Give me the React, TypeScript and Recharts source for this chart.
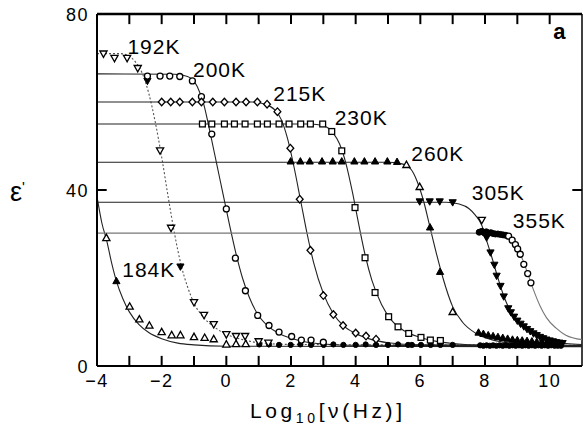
import { ComposedChart, Line, Scatter, XAxis, YAxis, ReferenceDot, ReferenceLine } from "recharts";

type Pt = [number, number];

// fitted curves (log10 freq, eps')
const fit184: Pt[] = [[-4, 38.5], [-3.85, 32.5], [-3.7, 28.5], [-3.55, 23.5], [-3.4, 19.3], [-3.2, 15.3], [-3.0, 12.3], [-2.7, 9.4], [-2.4, 7.6], [-2.0, 6.2], [-1.5, 5.2], [-1.0, 4.8], [0, 4.5], [11, 4.4]];
const fit192: Pt[] = [[-4, 71], [-3.3, 71], [-3.0, 70.4], [-2.8, 69], [-2.6, 66.5], [-2.4, 62], [-2.2, 55.5], [-2.0, 47.5], [-1.8, 38.5], [-1.6, 30], [-1.4, 23], [-1.2, 18], [-1.0, 14.3], [-0.7, 11], [-0.4, 9], [0, 7.2], [0.5, 6], [1, 5.3], [2, 4.9], [11, 4.7]];
const fit200: Pt[] = [[-4, 66.4], [-1.6, 66.3], [-1.2, 65.8], [-0.9, 63.5], [-0.7, 59.5], [-0.5, 53], [-0.3, 46], [-0.1, 39], [0.1, 32], [0.3, 25.5], [0.5, 20], [0.7, 15.8], [0.95, 12], [1.3, 9], [1.6, 7.5], [2.0, 6.3], [2.5, 5.4], [3.0, 5.0], [4.0, 4.7], [11, 4.5]];
const fit215: Pt[] = [[-4, 60], [0.8, 60], [1.2, 59.5], [1.5, 58.2], [1.7, 56], [1.9, 51.5], [2.1, 45], [2.3, 37.5], [2.5, 30], [2.7, 23.5], [3.0, 16.5], [3.3, 12], [3.6, 9.3], [4.0, 7.4], [4.5, 6.0], [5.0, 5.3], [6.0, 4.8], [11, 4.6]];
const fit230: Pt[] = [[-4, 55], [2.6, 55], [3.0, 54.6], [3.3, 53], [3.5, 50.5], [3.7, 46], [3.9, 39.5], [4.1, 32], [4.3, 25], [4.5, 19.5], [4.8, 14], [5.1, 10.5], [5.5, 8], [6.0, 6.5], [6.5, 5.6], [7.0, 5.1], [8.0, 4.7], [11, 4.6]];
const fit260: Pt[] = [[-4, 46.3], [5.0, 46.3], [5.4, 46], [5.7, 44.8], [5.9, 42], [6.1, 37.5], [6.3, 31.5], [6.5, 25.5], [6.7, 20], [7.0, 13.5], [7.3, 10], [7.7, 7.5], [8.2, 6.0], [8.8, 5.2], [9.5, 4.9], [11, 4.7]];
const fit305: Pt[] = [[-4, 37.2], [6.8, 37.2], [7.2, 36.8], [7.5, 35.8], [7.7, 34.3], [7.9, 32], [8.05, 28.5], [8.2, 25], [8.4, 20], [8.6, 15.5], [8.8, 12.3], [9.0, 10.2], [9.3, 8.2], [9.6, 6.9], [10.0, 5.8], [10.5, 5.1], [11, 4.9]];
const fit355: Pt[] = [[-4, 30.2], [7.6, 30.2], [8.0, 30.1], [8.4, 29.8], [8.7, 29], [8.9, 27.7], [9.1, 25.3], [9.3, 21.5], [9.5, 17.3], [9.7, 13.7], [9.9, 11], [10.2, 8.6], [10.5, 7.0], [11, 6.0]];

// measured points
const pts184: Pt[] = [[-3.71, 29.1], [-2.99, 13.5], [-2.69, 10.6], [-2.38, 9.2], [-2.0, 7.7], [-1.69, 7.0], [-1.42, 7.0], [-1.0, 6.6], [-0.67, 6.4], [-0.39, 6.1], [0.0, 4.9], [0.3, 5.0], [0.6, 5.0]];
const pts184f: Pt[] = [[-3.4, 19.3]];
const pts192: Pt[] = [[-3.8, 71], [-3.46, 70], [-3.07, 70], [-2.74, 67.7], [-2.05, 49], [-1.71, 31.4], [-1.0, 14.5], [-0.69, 11.6], [-0.39, 9.5], [0.0, 7.2], [0.3, 6.8], [0.58, 6.8], [1.0, 5.6], [1.3, 5.3]];
const pts192f: Pt[] = [[-2.44, 64.8], [-1.42, 22.6]];
const pts200: Pt[] = [[-2.44, 65.9], [-2.05, 65.9], [-1.75, 65.9], [-1.44, 65.8], [-1.05, 64.8], [-0.77, 61.2], [-0.45, 52.7], [0.0, 35.7], [0.28, 24.5], [0.59, 17.1], [0.97, 11.5], [1.32, 9.2], [1.63, 7.7], [2.02, 6.7], [2.32, 5.9], [2.62, 5.9], [3.0, 5.4]];
const pts215: Pt[] = [[-2.0, 60], [-1.72, 60], [-1.44, 60], [-1.05, 60], [-0.77, 60], [-0.42, 60], [-0.06, 60], [0.3, 60], [0.61, 60], [0.96, 60], [1.26, 59.5], [1.58, 57.8], [1.98, 49.5], [2.27, 37.9], [2.6, 26.3], [3.0, 16], [3.31, 11.7], [3.61, 9.2], [4.0, 7.5], [4.32, 6.8], [4.63, 6.1]];
const pts230: Pt[] = [[-0.74, 55], [-0.45, 55], [-0.06, 55], [0.25, 55], [0.58, 55], [0.96, 55], [1.27, 55], [1.63, 55], [1.94, 55], [2.3, 55], [2.6, 55], [2.98, 55], [3.26, 53.3], [3.57, 48.9], [3.98, 36], [4.29, 24.6], [4.6, 16.7], [5.02, 11.2], [5.31, 8.9], [5.64, 7.4], [6.02, 6.5], [6.31, 5.9], [6.62, 5.8]];
const pts260f: Pt[] = [[1.99, 46.5], [2.29, 46.5], [2.58, 46.5], [2.96, 46.5], [3.29, 46.5], [3.57, 46.5], [3.96, 46.5], [4.27, 46.5], [4.6, 46.5], [4.98, 46.5], [5.28, 46.4], [6.3, 31.5], [6.61, 21.4], [7.8, 7.6], [7.95, 7.3], [8.1, 7.0], [8.25, 6.8], [8.4, 6.6], [8.55, 6.4], [8.7, 6.2], [8.85, 6.0], [9.0, 5.9], [9.15, 5.8], [9.3, 5.7], [9.45, 5.6], [9.6, 5.5], [9.75, 5.4], [9.9, 5.3], [10.05, 5.2], [10.2, 5.2]];
const pts260: Pt[] = [[5.57, 45.7], [5.98, 40.7], [7.0, 12.3]];
const pts305f: Pt[] = [[5.98, 37.4], [6.29, 37.4], [6.6, 37.4], [7.0, 37.2], [8.05, 29.2], [8.17, 25.8], [8.29, 23], [8.36, 20.5], [8.48, 18.2], [8.58, 15.8], [8.72, 13.1], [8.8, 12.2], [8.9, 11.2], [9.0, 10.3], [9.1, 9.6], [9.2, 9.0], [9.3, 8.4], [9.4, 7.9], [9.5, 7.4], [9.6, 7.0], [9.7, 6.6], [9.8, 6.3], [9.9, 6.0], [10.0, 5.8], [10.1, 5.6], [10.2, 5.4], [10.3, 5.3], [10.4, 5.2]];
const pts305: Pt[] = [[7.9, 33.2]];
const pts355: Pt[] = [[8.73, 29.5], [8.84, 28.6], [8.94, 27.6], [9.01, 26.6], [9.09, 25.4], [9.2, 23.1], [9.32, 21], [9.42, 18.9]];
const pts355f: Pt[] = [[7.82, 30.4], [7.9, 30.6], [7.97, 30.3], [8.04, 30.5], [8.1, 30.2], [8.18, 30.3], [8.25, 30.1], [8.32, 30.0], [8.4, 30.0], [8.48, 29.9], [8.56, 29.8], [8.64, 29.7]];
// high-frequency limit points
const ptsBase: Pt[] = [[1.02, 4.9], [1.32, 4.9], [1.63, 4.8], [1.99, 4.8], [2.29, 4.9], [2.62, 4.8], [3.01, 4.8], [3.31, 4.9], [3.62, 4.8], [4.0, 4.8], [4.31, 4.9], [4.63, 4.8], [5.0, 4.8], [5.31, 4.9], [5.62, 4.8], [5.74, 4.8], [6.02, 4.8], [6.32, 4.8], [6.62, 4.8], [7.0, 4.8], [7.85, 4.7], [7.95, 4.6], [8.05, 4.7], [8.15, 4.6], [8.25, 4.7], [8.35, 4.6], [8.45, 4.7], [8.55, 4.6], [8.65, 4.7], [8.75, 4.6], [8.85, 4.7], [8.95, 4.6], [9.05, 4.7], [9.15, 4.6], [9.25, 4.7], [9.35, 4.6], [9.45, 4.7], [9.55, 4.6], [9.65, 4.7], [9.75, 4.6], [9.85, 4.7], [9.95, 4.6], [10.05, 4.7], [10.15, 4.6], [10.25, 4.6], [10.35, 4.6]];

const X_TICKS = [-4, -3, -2, -1, 0, 1, 2, 3, 4, 5, 6, 7, 8, 9, 10];
const INNER_TICKS = [-3, -2, -1, 0, 1, 2, 3, 4, 5, 6, 7, 8, 9, 10];
const Y_TICKS = [0, 40, 80];
const X_MIN = -4;
const X_MAX = 11;
const Y_MAX = 80;
// inward tick length in axis units (about 10px)
const TICK_DY = 2.3;
const TICK_DX = 0.3;

const TEMP_LABELS = [
  { text: "184K", x: -2.4, y: 21.9 },
  { text: "192K", x: -2.24, y: 72.7 },
  { text: "200K", x: -0.21, y: 67.4 },
  { text: "215K", x: 2.27, y: 62 },
  { text: "230K", x: 4.17, y: 56.4 },
  { text: "260K", x: 6.54, y: 48.2 },
  { text: "305K", x: 8.41, y: 39.4 },
  { text: "355K", x: 9.68, y: 33 },
];

const toXY = (pts: Pt[]) => pts.map(([x, y]) => ({ x, y }));

type Kind = "triUp" | "triUpFill" | "triDown" | "triDownFill" | "circle" | "circleFill" | "diamond" | "square" | "dot";

function marker(kind: Kind) {
  return (props: any) => {
    const { cx, cy } = props;
    if (cx == null || cy == null) return <g />;
    const open = { fill: "#fff", stroke: "#000", strokeWidth: 1.3 };
    const solid = { fill: "#000", stroke: "#000", strokeWidth: 1 };
    switch (kind) {
      case "triUp":
      case "triUpFill":
        return (
          <polygon
            points={`${cx},${cy - 3.8} ${cx - 3.6},${cy + 2.6} ${cx + 3.6},${cy + 2.6}`}
            {...(kind === "triUp" ? open : solid)}
          />
        );
      case "triDown":
      case "triDownFill":
        return (
          <polygon
            points={`${cx},${cy + 3.8} ${cx - 3.6},${cy - 2.6} ${cx + 3.6},${cy - 2.6}`}
            {...(kind === "triDown" ? open : solid)}
          />
        );
      case "circle":
        return <circle cx={cx} cy={cy} r={3} {...open} />;
      case "circleFill":
        return <circle cx={cx} cy={cy} r={3} {...solid} />;
      case "dot":
        return <circle cx={cx} cy={cy} r={2.6} {...solid} />;
      case "diamond":
        return (
          <polygon
            points={`${cx},${cy - 3.8} ${cx + 3.4},${cy} ${cx},${cy + 3.8} ${cx - 3.4},${cy}`}
            {...open}
          />
        );
      case "square":
        return <rect x={cx - 2.9} y={cy - 2.9} width={5.8} height={5.8} {...open} />;
    }
    return <g />;
  };
}

const fmt = (v: number) => (v < 0 ? `\u2212${-v}` : `${v}`);

const bottomTick = (props: any) => {
  const { x, payload } = props;
  const v = payload.value;
  if (v % 2 !== 0) return <g />;
  return (
    <text x={x} y={387} textAnchor="middle" fontSize={18} letterSpacing={1.5} fill="#000">
      {fmt(v)}
    </text>
  );
};

const leftTick = (props: any) => {
  const { y, payload } = props;
  return (
    <text x={89} y={y + 7} textAnchor="end" fontSize={18} letterSpacing={1.5} fill="#000">
      {payload.value}
    </text>
  );
};

const fits: { data: Pt[]; stroke: string; dash?: string }[] = [
  { data: fit184, stroke: "#222" },
  { data: fit192, stroke: "#555", dash: "2 2" },
  { data: fit200, stroke: "#222" },
  { data: fit215, stroke: "#222" },
  { data: fit230, stroke: "#222" },
  { data: fit260, stroke: "#222" },
  { data: fit305, stroke: "#222" },
  { data: fit355, stroke: "#777" },
];

const points: { data: Pt[]; kind: Kind }[] = [
  { data: ptsBase, kind: "dot" },
  { data: pts184, kind: "triUp" },
  { data: pts184f, kind: "triUpFill" },
  { data: pts192, kind: "triDown" },
  { data: pts192f, kind: "triDownFill" },
  { data: pts200, kind: "circle" },
  { data: pts215, kind: "diamond" },
  { data: pts230, kind: "square" },
  { data: pts260f, kind: "triUpFill" },
  { data: pts260, kind: "triUp" },
  { data: pts305f, kind: "triDownFill" },
  { data: pts305, kind: "triDown" },
  { data: pts355f, kind: "circleFill" },
  { data: pts355, kind: "circle" },
];

export default function App() {
  return (
    <div
      style={{
        position: "absolute",
        left: 0,
        top: 0,
        background: "#fff",
        fontFamily: "'Liberation Sans', Arial, sans-serif",
      }}
    >
      <ComposedChart width={583} height={432} margin={{ top: 14, right: 1, bottom: 26, left: 57 }}>
        <XAxis
          type="number"
          dataKey="x"
          domain={[X_MIN, X_MAX]}
          ticks={X_TICKS}
          interval={0}
          height={40}
          tickLine={false}
          tick={bottomTick}
          axisLine={{ stroke: "#000", strokeWidth: 2 }}
          label={{
            content: () => (
              <text x={250} y={418} fontSize={21} letterSpacing={3.6} fill="#000">
                Log
                <tspan fontSize={14} dy={5}>
                  10
                </tspan>
                <tspan dy={-5}>[ν(Hz)]</tspan>
              </text>
            ),
          }}
        />
        <YAxis
          type="number"
          dataKey="y"
          domain={[0, Y_MAX]}
          ticks={Y_TICKS}
          interval={0}
          width={40}
          tickLine={false}
          tick={leftTick}
          axisLine={{ stroke: "#000", strokeWidth: 2 }}
          label={{
            content: () => (
              <text x={10} y={201} fontSize={27} fill="#000">
                ε
                <tspan fontSize={15} dy={-9}>
                  '
                </tspan>
              </text>
            ),
          }}
        />
        {/* closed frame, inward ticks */}
        <ReferenceLine y={Y_MAX} stroke="#000" strokeWidth={2.5} ifOverflow="visible" />
        <ReferenceLine x={X_MAX} stroke="#000" strokeWidth={1.5} ifOverflow="visible" />
        {INNER_TICKS.map((v) => (
          <ReferenceLine
            key={`tt${v}`}
            segment={[{ x: v, y: Y_MAX }, { x: v, y: Y_MAX - TICK_DY }]}
            stroke="#000"
            strokeWidth={2}
            ifOverflow="visible"
          />
        ))}
        {INNER_TICKS.map((v) => (
          <ReferenceLine
            key={`bt${v}`}
            segment={[{ x: v, y: 0 }, { x: v, y: TICK_DY }]}
            stroke="#000"
            strokeWidth={2}
            ifOverflow="visible"
          />
        ))}
        <ReferenceLine segment={[{ x: X_MIN, y: 40 }, { x: X_MIN + TICK_DX, y: 40 }]} stroke="#000" strokeWidth={2} ifOverflow="visible" />
        <ReferenceLine segment={[{ x: X_MAX, y: 40 }, { x: X_MAX - TICK_DX, y: 40 }]} stroke="#000" strokeWidth={2} ifOverflow="visible" />
        {fits.map((f, i) => (
          <Line
            key={`fit${i}`}
            data={toXY(f.data)}
            dataKey="y"
            type="monotone"
            stroke={f.stroke}
            strokeWidth={1.1}
            strokeDasharray={f.dash}
            dot={false}
            activeDot={false}
            isAnimationActive={false}
          />
        ))}
        {points.map((s, i) => (
          <Scatter
            key={`pts${i}`}
            data={toXY(s.data)}
            dataKey="y"
            shape={marker(s.kind)}
            isAnimationActive={false}
          />
        ))}
        {TEMP_LABELS.map((t) => (
          <ReferenceDot
            key={t.text}
            x={t.x}
            y={t.y}
            r={0}
            fill="none"
            stroke="none"
            ifOverflow="visible"
            label={{ value: t.text, position: "center", fontSize: 21, fill: "#000", letterSpacing: 1 }}
          />
        ))}
        <ReferenceDot
          x={10.3}
          y={76.2}
          r={0}
          fill="none"
          stroke="none"
          ifOverflow="visible"
          label={{ value: "a", position: "center", fontSize: 22, fontWeight: "bold", fill: "#000" }}
        />
      </ComposedChart>
    </div>
  );
}
